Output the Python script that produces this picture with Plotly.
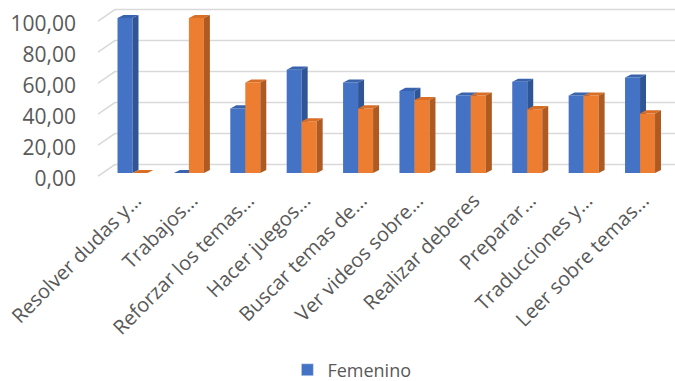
import plotly.graph_objects as go

categories = ["Resolver dudas y...", "Trabajos...", "Reforzar los temas...", "Hacer juegos...",
              "Buscar temas de...", "Ver videos sobre...", "Realizar deberes", "Preparar...",
              "Traducciones y...", "Leer sobre temas..."]
femenino = [100.0, 0.0, 41.67, 66.67, 58.33, 52.94, 50.0, 58.82, 50.0, 61.54]
masculino = [0.0, 100.0, 58.33, 33.33, 41.67, 47.06, 50.0, 41.18, 50.0, 38.46]
y_ticks = [0, 20, 40, 60, 80, 100]

BW = 0.266   # bar front width (category units)
DX = 0.106   # 3D depth in x
DY = 2.0     # 3D depth in y (value units)
X0, X1 = -0.612, 9.62
Y0, Y1 = -4.516, 108.39
GDX, GFRONT, GBACK = 0.30, -2.0, 5.5

FONT = "Open Sans"
GRAY = "#595959"


def faces(values, offset):
    fx, fy, tx, ty, sx, sy = [], [], [], [], [], []
    for i, v in enumerate(values):
        xl = i + offset
        xr = xl + BW
        fx += [xl, xr, xr, xl, xl, None]
        fy += [0, 0, v, v, 0, None]
        tx += [xl, xr, xr + DX, xl + DX, xl, None]
        ty += [v, v, v + DY, v + DY, v, None]
        sx += [xr, xr, xr + DX, xr + DX, xr, None]
        sy += [0, v, v + DY, DY, 0, None]
    return (fx, fy), (tx, ty), (sx, sy)


fig = go.Figure()

# back-wall gridlines
gx, gy = [], []
for g in y_ticks:
    gx += [X0, X0 + GDX, X1, None]
    gy += [g + GFRONT, g + GBACK, g + GBACK, None]
fig.add_trace(go.Scatter(x=gx, y=gy, mode="lines", line=dict(color="#D9D9D9", width=1.6),
                         hoverinfo="skip", showlegend=False))

series = [
    (femenino, -BW, "#4472C4", "#3A63AE", "#2F5597"),
    (masculino, 0.0, "#ED7D31", "#D96E27", "#AE5A21"),
]
for vals, off, cf, ct, cs in series:
    (fx, fy), (tx, ty), (sx, sy) = faces(vals, off)
    for (xx, yy, c) in [(fx, fy, cf), (tx, ty, ct), (sx, sy, cs)]:
        fig.add_trace(go.Scatter(x=xx, y=yy, mode="lines", fill="toself", fillcolor=c,
                                 line=dict(width=0, color=c), hoverinfo="skip", showlegend=False))

# legend entry
fig.add_trace(go.Bar(x=[None], y=[None], name="Femenino", marker_color="#4472C4", showlegend=True))

fig.update_layout(
    width=675, height=381,
    margin=dict(l=98, r=0, t=5, b=201, autoexpand=False),
    paper_bgcolor="white", plot_bgcolor="white",
    font=dict(family=FONT, color=GRAY),
    separators=",.",
    showlegend=True,
    legend=dict(orientation="h", x=0.44, xanchor="center", y=-1.086, yanchor="middle",
                font=dict(size=18, color=GRAY, family=FONT)),
    xaxis=dict(range=[X0, X1], tickmode="array", tickvals=list(range(len(categories))),
               ticktext=categories, tickangle=-45, showgrid=False, zeroline=False,
               showline=False, ticklabelstandoff=4, ticklabelshift=3, automargin=False,
               ticklabeloverflow="allow",
               tickfont=dict(size=20, color=GRAY, family=FONT)),
    yaxis=dict(range=[Y0, Y1], tickmode="array", tickvals=y_ticks, tickformat=".2f",
               showgrid=False, zeroline=False, showline=False, automargin=False,
               ticklabelstandoff=21, ticklabelshift=6, ticklabeloverflow="allow",
               tickfont=dict(size=21, color=GRAY, family=FONT)),
)

fig.write_html("out.html")
